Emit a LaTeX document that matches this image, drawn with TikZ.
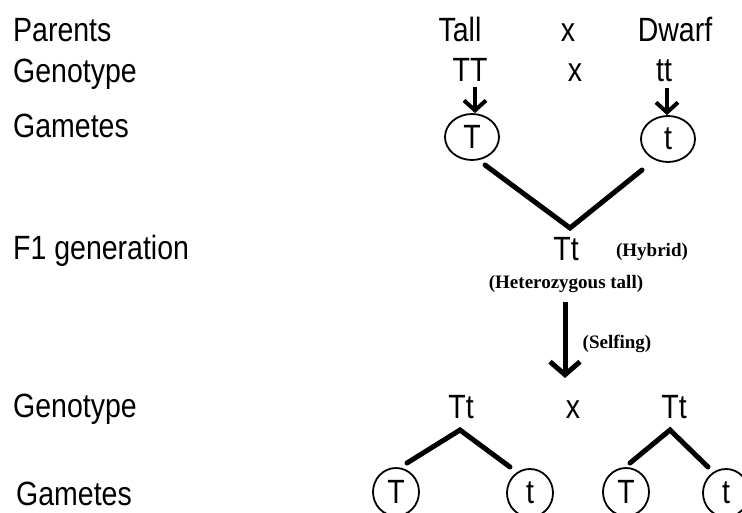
\documentclass[tikz,border=0pt]{standalone}
\usepackage{fontspec}
\setmainfont{Liberation Sans}
\newfontfamily\labelserif{Liberation Serif}
\usetikzlibrary{shapes.geometric,arrows.meta,calc}
% tall, slightly stretched letters of the main labels
\newcommand{\stretched}[1]{\scalebox{1}[1.18]{#1}}

\begin{document}
\begin{tikzpicture}[x=1pt,y=-1pt,
  txt/.style={font=\fontsize{28.5}{34}\selectfont, inner sep=0pt, anchor=base},
  side/.style={txt, anchor=base west},
  note/.style={font=\labelserif\bfseries\fontsize{19}{22}\selectfont, inner sep=0pt, anchor=base},
  gamete/.style={ellipse, draw, line width=1.8pt, inner sep=0pt,
    minimum width=54pt, minimum height=46pt, font=\fontsize{28.5}{34}\selectfont},
  bar/.style={line width=5pt, line cap=round},
  smallarr/.style={line width=4pt, -{Straight Barb[length=10pt,width=22pt]}},
  bigarr/.style={line width=5pt, -{Straight Barb[length=13pt,width=30pt]}}
]
\useasboundingbox (0,0) rectangle (742,513);

% row captions
\node[side] (capP)  at (13,42)  {\stretched{Parents}};
\node[side] (capG1) at (13,83)  {\stretched{Genotype}};
\node[side] (capM1) at (13,138) {\stretched{Gametes}};
\node[side] (capF1) at (13,260) {\stretched{F1 generation}};
\node[side] (capG2) at (13,417) {\stretched{Genotype}};
\node[side] (capM2) at (16,505) {\stretched{Gametes}};

% parents
\node[txt] (tall)  at (460,42) {\stretched{Tall}};
\node[txt] (x1)    at (568,42) {\stretched{x}};
\node[txt] (dwarf) at (675,42) {\stretched{Dwarf}};
\node[txt] (TT)    at (470,82) {\stretched{TT}};
\node[txt] (x2)    at (575,82) {\stretched{x}};
\node[txt] (tt)    at (664,82) {\stretched{tt}};

% parental gametes
\node[gamete] (gT) at (472,137) {\stretched{T}};
\node[gamete] (gt) at (668,139) {\stretched{t}};
\draw[smallarr] ([shift={(5pt,-5pt)}]TT.south) -- ([xshift=3pt]gT.north);
\draw[smallarr] ([shift={(3pt,-6pt)}]tt.south) -- ([xshift=-1pt]gt.north);

% F1 hybrid
\node[txt]  (F1)     at (566,261) {\stretched{Tt}};
\node[note] (hybrid) at (652,257) {(Hybrid)};
\node[note] (het)    at (566,288) {(Heterozygous tall)};
\coordinate (vL)   at ($(gT.center)+(13,28)$);
\coordinate (vR)   at ($(gt.center)+(-26,31)$);
\coordinate (apex) at ($(F1.base)+(4,-33)$);
\draw[bar] (vL) -- (apex) -- (vR);

% selfing
\coordinate (self) at (565,378);
\draw[bigarr] ([xshift=-1pt,yshift=-10pt]het.south) -- (self);
\node[note] (selfing) at (617,348) {(Selfing)};

% F1 genotypes
\node[txt] (TtL) at (461,418) {\stretched{Tt}};
\node[txt] (x3)  at (573,418) {\stretched{x}};
\node[txt] (TtR) at (674,418) {\stretched{Tt}};

% F1 gametes
\node[gamete, minimum width=46pt, minimum height=48pt] (bT1) at (396,492) {\stretched{T}};
\node[gamete, minimum width=46pt, minimum height=48pt] (bt1) at (530,493) {\stretched{t}};
\node[gamete, minimum width=46pt, minimum height=48pt] (bT2) at (626,492) {\stretched{T}};
\node[gamete, minimum width=46pt, minimum height=48pt] (bt2) at (726,493) {\stretched{t}};

\coordinate (aL) at ($(TtL.base)+(-1,12)$);
\coordinate (aR) at ($(TtR.base)+(-4,12)$);
\draw[bar] ($(bT1.center)+(11,-29)$) -- (aL) -- ($(bt1.center)+(-20,-26)$);
\draw[bar] ($(bT2.center)+(4,-29)$)  -- (aR) -- ($(bt2.center)+(-18,-26)$);
\end{tikzpicture}
\end{document}
